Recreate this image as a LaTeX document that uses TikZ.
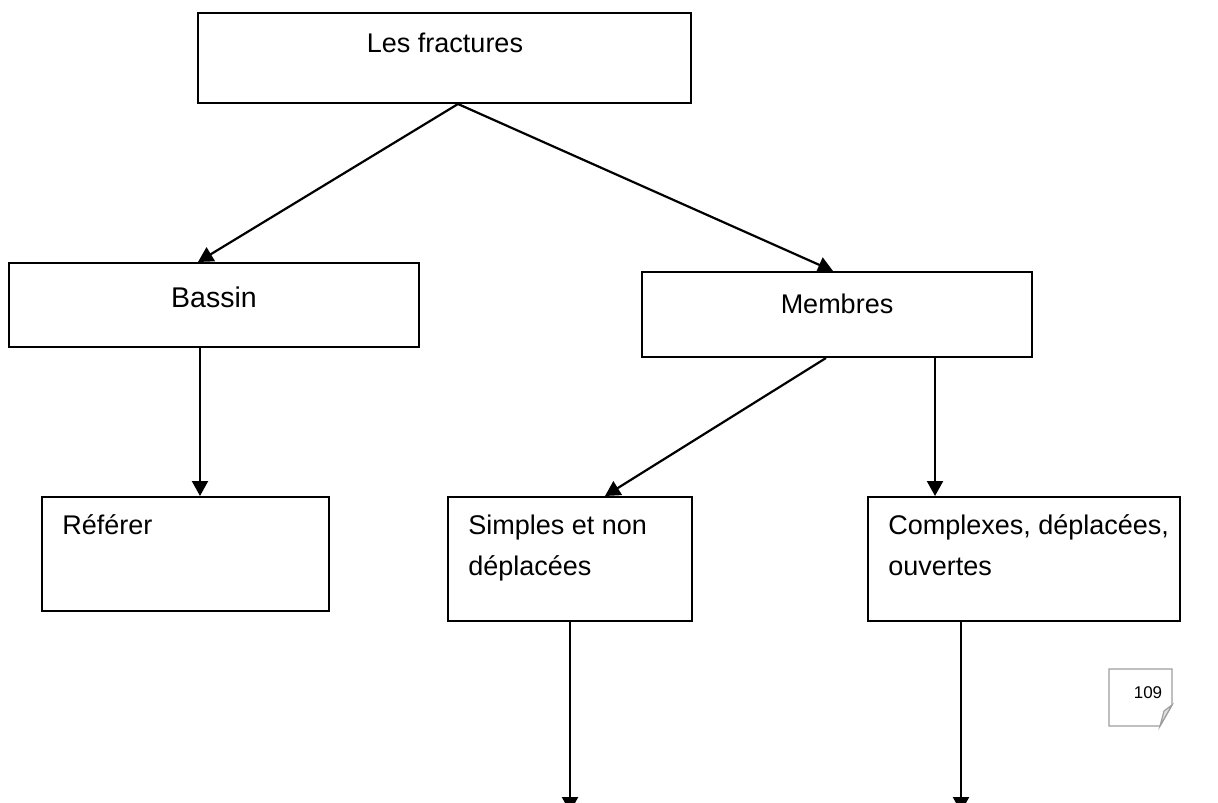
\documentclass[tikz,border=0pt]{standalone}
\usepackage{fontspec}
\setmainfont{Liberation Sans}
\usetikzlibrary{arrows.meta,calc}
\begin{document}
\begin{tikzpicture}[x=0.5pt,y=-0.5pt,
  box/.style={draw, line width=1pt, inner sep=0pt},
  label/.style={inner sep=0pt},
  conn/.style={line width=1.1pt, -{Triangle[length=7.5pt,width=8pt]}},
  pagebox/.style={draw=black!38, line width=0.6pt, fill=white}]
\useasboundingbox (0,0) rectangle (1218,802);

% boxes
\node[box, minimum width=246.5pt, minimum height=45pt] (top) at (444.5,58) {};
\node[box, minimum width=205pt, minimum height=42pt] (bassin) at (214,305) {};
\node[box, minimum width=195pt, minimum height=42.5pt] (membres) at (837,314.5) {};
\node[box, minimum width=143.5pt, minimum height=57pt] (referer) at (185.5,554) {};
\node[box, minimum width=122pt, minimum height=62pt] (simples) at (570,559) {};
\node[box, minimum width=156pt, minimum height=62pt] (complexes) at (1024,559) {};

% texts
\node[label, anchor=base, font=\fontsize{13.5}{16}\selectfont] (tTop) at (445,53) {Les fractures};
\node[label, anchor=base, font=\fontsize{14.25}{17}\selectfont] (tBassin) at (214,307) {Bassin};
\node[label, anchor=base, font=\fontsize{13.5}{16}\selectfont] (tMembres) at (837,313) {Membres};
\node[label, anchor=base west, font=\fontsize{13.5}{20.5}\selectfont] (tReferer) at (62,534) {Référer};
\node[label, anchor=base west, align=left, font=\fontsize{13.5}{20.5}\selectfont] (tSimples) at (468,575) {Simples et non\\déplacées};
\node[label, anchor=base west, align=left, font=\fontsize{13.5}{20.5}\selectfont] (tComplexes) at (888,575) {Complexes, déplacées,\\ouvertes};

% loose ends of the last arrows
\coordinate (endS) at (570,812);
\coordinate (endC) at (961,812);

% connectors
\draw[conn] ($(top.south)+(13.5,0)$) -- ($(bassin.north)+(-16,0)$);
\draw[conn] ($(top.south)+(13.5,0)$) -- ($(membres.north)+(-4,0)$);
\draw[conn] ($(bassin.south)+(-14,0)$) -- ($(referer.north)+(14.5,0)$);
\draw[conn] ($(membres.south)+(-11,0)$) -- ($(simples.north)+(35,0)$);
\draw[conn] ($(membres.south)+(98,0)$) -- ($(complexes.north)+(-89,0)$);
\draw[conn] (simples.south) -- (endS);
\draw[conn] ($(complexes.south)+(-63,0)$) -- (endC);

% page number with folded corner
\draw[pagebox] (1109,669) -- (1172,669) -- (1172,705) -- (1160,726) -- (1109,726) -- cycle;
\draw[pagebox, fill=black!12] (1172,705) -- (1160,726) -- (1164,711) -- cycle;
\node[label, anchor=base, font=\fontsize{8.5}{10}\selectfont] (page) at (1148,698) {109};
\end{tikzpicture}
\end{document}
